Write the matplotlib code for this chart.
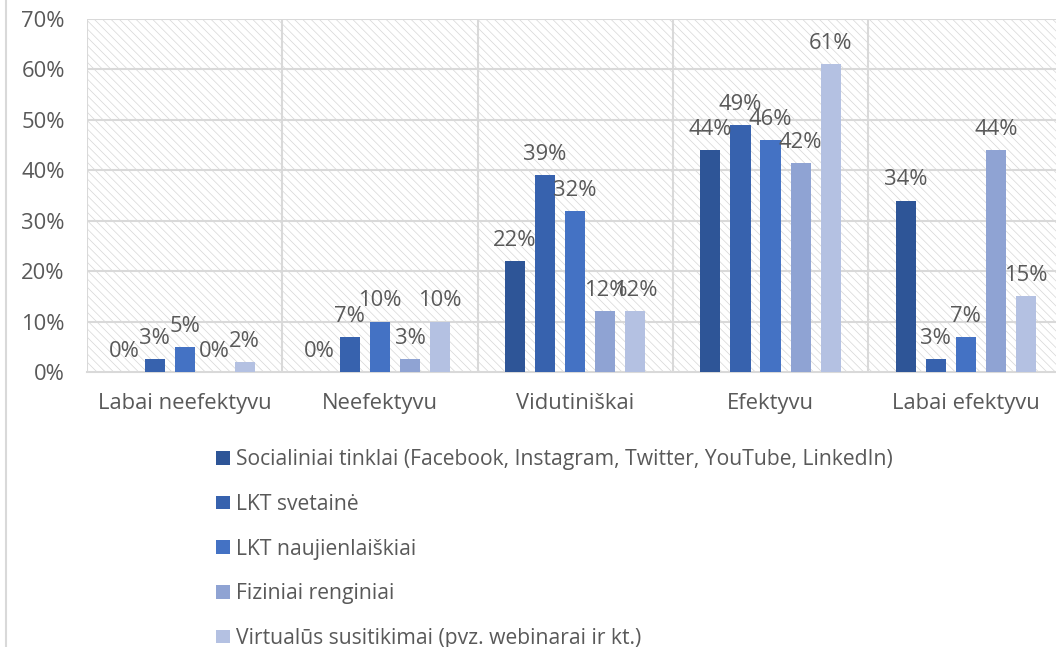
import numpy as np
import matplotlib
matplotlib.use("Agg")
import matplotlib.pyplot as plt
from matplotlib.patches import Rectangle
from matplotlib.lines import Line2D

plt.rcParams['font.family'] = ['Open Sans', 'DejaVu Sans']
plt.rcParams['hatch.linewidth'] = 0.5

categories = ["Labai neefektyvu", "Neefektyvu", "Vidutiniškai", "Efektyvu", "Labai efektyvu"]
series = ["Socialiniai tinklai (Facebook, Instagram, Twitter, YouTube, LinkedIn)",
          "LKT svetainė",
          "LKT naujienlaiškiai",
          "Fiziniai renginiai",
          "Virtualūs susitikimai (pvz. webinarai ir kt.)"]
socialiniai = [0.0, 0.0, 22.0, 44.0, 34.0]
svetaine = [2.6, 6.9, 39.0, 49.0, 2.6]
naujienlaiskiai = [5.0, 10.0, 32.0, 46.0, 7.0]
fiziniai = [0.0, 2.6, 12.0, 41.5, 44.0]
virtualus = [2.0, 10.0, 12.0, 61.0, 15.0]
colors = ["#2E5597", "#3762AE", "#4472C4", "#8FA3D3", "#B4C1E2"]

values = [socialiniai, svetaine, naujienlaiskiai, fiziniai, virtualus]

fs = 15.8
fs_leg = 15.2
fig = plt.figure(figsize=(10.56, 6.47), dpi=100)
ax = fig.add_axes([87/1056, 1 - 372/647, 1 - 87/1056, (372 - 19)/647])

x = np.arange(len(categories))
step = 0.154
width = 0.103
text_col = "#595959"
grid_col = "#D9D9D9"

# hatched plot area background
ax.add_patch(Rectangle((0, 0), 1, 1, transform=ax.transAxes, facecolor="white",
                       edgecolor="#D6D6D6", hatch="\\\\\\\\", lw=0, zorder=0))

for i, vals in enumerate(values):
    pos = x + (i - 2) * step
    ax.bar(pos, vals, width=width, color=colors[i], zorder=3, label=series[i])
    for p, v in zip(pos, vals):
        ax.text(p, v + 2.0, f"{v:.0f}%", ha="center", va="bottom",
                fontsize=fs, color=text_col, zorder=4)

ax.set_ylim(0, 70)
ax.set_xlim(-0.5, -0.5 + 969/195.3)
ax.set_yticks(np.arange(0, 71, 10))
ax.set_yticklabels([f"{t}%" for t in range(0, 71, 10)], fontsize=fs, color=text_col)
ax.set_xticks(x)
ax.set_xticklabels(categories, fontsize=fs, color=text_col)
ax.tick_params(length=0, pad=16, axis="y")
ax.tick_params(length=0, pad=15, axis="x")

for yv in range(10, 71, 10):
    ax.axhline(yv, color=grid_col, lw=1.5, zorder=1)
for xv in np.arange(0.5, len(categories), 1):
    ax.axvline(xv, color=grid_col, lw=1.5, zorder=1)
ax.axvline(-0.5, color=grid_col, lw=1.5, zorder=1)
for s in ["top", "right", "left"]:
    ax.spines[s].set_visible(False)
ax.spines["bottom"].set_color(grid_col)
ax.spines["bottom"].set_linewidth(1.5)

fig.add_artist(Line2D([6/1056, 6/1056], [0, 1], color="#D9D9D9", lw=1.5))

leg = fig.legend(loc="upper left", bbox_to_anchor=(208/1056, 1 - 441/647), frameon=False,
                 fontsize=fs_leg, labelcolor=text_col, handlelength=0.62, handleheight=0.62,
                 handletextpad=0.3, labelspacing=1.12, borderaxespad=0)

fig.savefig("out.png", dpi=100)
